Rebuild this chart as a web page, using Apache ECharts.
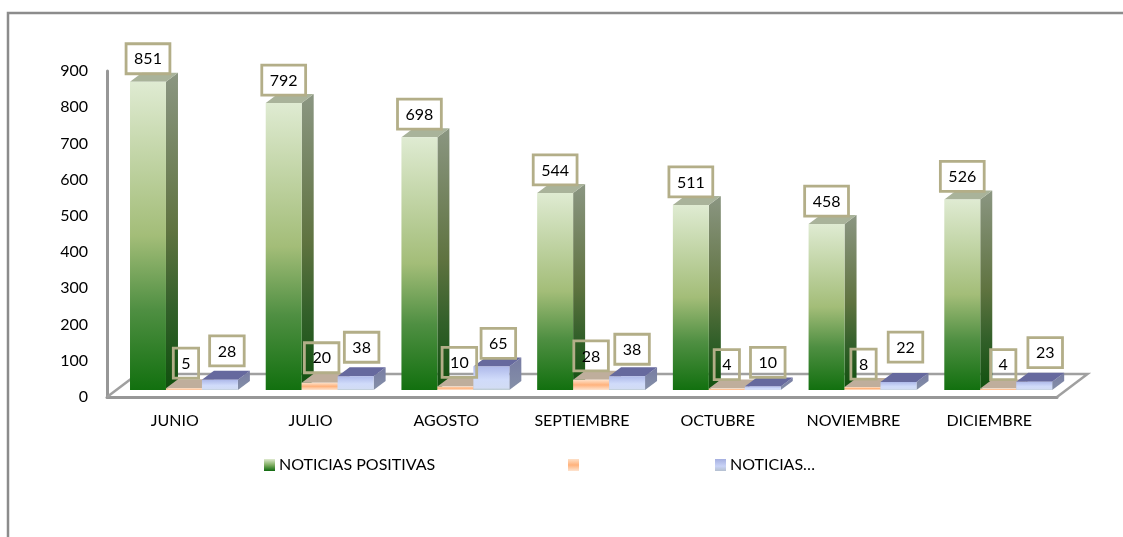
<!DOCTYPE html>
<html><head><meta charset="utf-8">
<style>html,body{margin:0;padding:0;background:#fff}#c{width:1123px;height:537px}</style>
<script src="https://cdn.jsdelivr.net/npm/echarts@6/dist/echarts.min.js"></script>
</head><body><div id="c"></div>
<script>
const months = ['JUNIO','JULIO','AGOSTO','SEPTIEMBRE','OCTUBRE','NOVIEMBRE','DICIEMBRE'];
const positivas = [851,792,698,544,511,458,526];
const neutras   = [5,20,10,28,4,8,4];
const negativas = [28,38,65,38,10,22,23];
const yTicks = {min:0,max:900,interval:100};

// hand-placed label nudges, px (the source chart had manually moved labels)
const nudgeX = [[0,0,0,0,0,0,0],[2,2,4,0,0,1,5],[7,6,7,5,5,7,11]];
const nudgeY = [[0,0,0,0,0,0,0],[-2,-2,-1,-1,-1,0,-1],[-6,-6,0,-4,-1,-12,-6]];

const grad = stops => ({type:'linear',x:0,y:0,x2:0,y2:1,colorStops:stops.map((c,i)=>({offset:c[0],color:c[1]}))});
const looks = [
 {front:grad([[0,'#dfebd2'],[0.5,'#a3bd78'],[0.74,'#4f8f42'],[1,'#12700f']]),
  side:grad([[0,'#8b9682'],[0.5,'#5f7340'],[0.74,'#33602a'],[1,'#10500e']]),
  top:'#a9b39a'},
 {front:grad([[0,'#fde0c8'],[0.5,'#ffb27c'],[1,'#fde4d0']]),
  side:grad([[0,'#b9a58e'],[1,'#a08e78']]),
  top:'#bfae9c'},
 {front:grad([[0,'#aeb9ea'],[0.55,'#d0dbfa'],[0.9,'#d2dcf4'],[1,'#bccbd0']]),
  side:grad([[0,'#777ca3'],[1,'#8590a8']]),
  top:'#66699e'}
];
const depthX=12, depthY=9, liftX=9.1, liftY=7, barFrac=0.265;

function barRenderer(s){
  return function(params,api){
    const i=api.value(0), v=api.value(1);
    const bw=api.size([1,0])[0], w=bw*barFrac;
    const p=api.coord([i,v]), b=api.coord([i,0]);
    const x0=p[0]+liftX+(s-1.5)*w, x1=x0+w;
    const yb=b[1]-liftY, yt=p[1]-liftY;
    const l=looks[s];
    const kids=[
     {type:'polygon',z2:s,shape:{points:[[x1,yb],[x1+depthX,yb-depthY],[x1+depthX,yt-depthY],[x1,yt]]},style:{fill:l.side}},
     {type:'polygon',z2:s,shape:{points:[[x0,yt],[x1,yt],[x1+depthX,yt-depthY],[x0+depthX,yt-depthY]]},style:{fill:l.top}},
     {type:'rect',z2:s+0.1,shape:{x:x0,y:yt,width:w,height:yb-yt},style:{fill:l.front}},
     {type:'text',z2:100,style:{text:String(v),x:(x0+x1)/2+nudgeX[s][i],y:yt-8+nudgeY[s][i],align:'center',verticalAlign:'bottom',
       fill:'#000',font:'16px Lato',lineHeight:17,padding:[7,8,6,8],borderColor:'#b3ae88',borderWidth:1.4,backgroundColor:'transparent'}}
    ];
    return {type:'group',children:kids};
  };
}
function floorRenderer(params,api){
  const c=params.coordSys, bx=c.y+c.height, dx=30.5, dy=23;
  return {type:'polyline',z2:-1,shape:{points:[[c.x,bx],[c.x+dx,bx-dy],[c.x+c.width+dx,bx-dy],[c.x+c.width,bx]]},
    style:{fill:null,stroke:'#a0a0a0',lineWidth:2.5}};
}
const swatches=[
 grad([[0,'#dfeacf'],[0.5,'#7fae62'],[1,'#0f690f']]),
 grad([[0,'#fde0c8'],[0.5,'#ffb27c'],[1,'#fde4d0']]),
 grad([[0,'#a5afe0'],[0.6,'#c9d3f6'],[1,'#b4c0d0']])
];
const names=['NOTICIAS POSITIVAS',' ','NOTICIAS…'];
const leftPos=[259,563,710];
const pack=(arr)=>arr.map((v,i)=>[i,v]);
const seriesVals=[positivas,neutras,negativas];

const chart=echarts.init(document.getElementById('c'),null,{renderer:'canvas'});
chart.setOption({
 animation:false,
 backgroundColor:'#fff',
 textStyle:{fontFamily:'Lato'},
 grid:{left:107,right:66,top:71,bottom:140,containLabel:false},
 xAxis:{type:'category',data:months,axisTick:{show:false},
   axisLine:{lineStyle:{color:'#979797',width:3}},
   axisLabel:{color:'#000',fontSize:16,fontFamily:'Lato',margin:16,interval:0}},
 yAxis:{type:'value',min:yTicks.min,max:yTicks.max,interval:yTicks.interval,splitLine:{show:false},axisTick:{show:false},
   axisLine:{show:true,lineStyle:{color:'#979797',width:3}},
   axisLabel:{color:'#000',fontSize:16,fontFamily:'Lato',margin:19,padding:[2,0,0,0]}},
 legend:names.map((n,i)=>({left:leftPos[i],top:452,orient:'horizontal',selectedMode:false,icon:'rect',itemWidth:11,itemHeight:12,itemGap:0,
   data:[{name:n,itemStyle:{color:swatches[i]}}],textStyle:{color:'#000',fontSize:16,fontFamily:'Lato',padding:[0,0,0,-1]}})),
 graphic:[{type:'polyline',silent:true,shape:{points:[[8,537],[8,13],[1123,13]]},style:{fill:null,stroke:'#8c8c8c',lineWidth:2.5}}],
 series:[
  {type:'custom',name:'floor',coordinateSystem:'cartesian2d',data:[[0,0]],renderItem:floorRenderer,silent:true,z:1},
  ...names.map((n,s)=>({type:'custom',name:n,coordinateSystem:'cartesian2d',data:pack(seriesVals[s]),renderItem:barRenderer(s),z:2,encode:{x:0,y:1}}))
 ]
});
</script></body></html>
